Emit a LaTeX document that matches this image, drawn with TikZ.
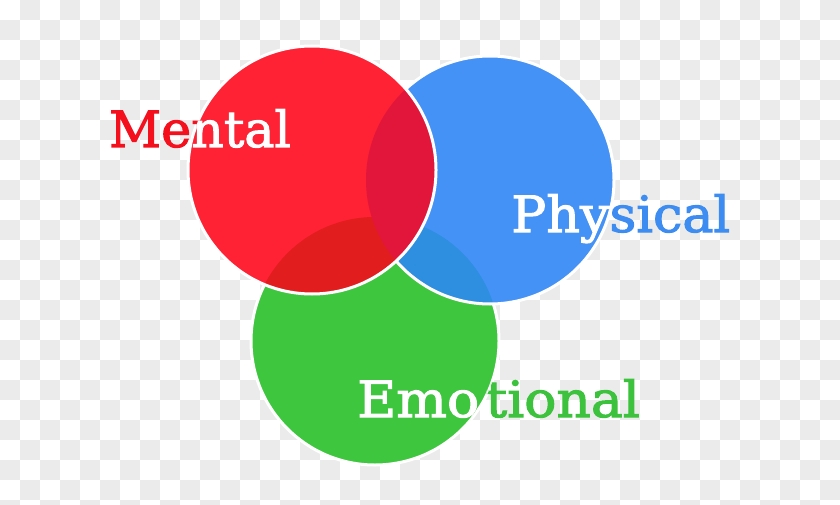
\documentclass[tikz,border=0pt]{standalone}
\usepackage{fontspec}
\setmainfont{DejaVu Serif}
\newfontfamily\lblfont[FakeBold=2]{DejaVu Serif}
\definecolor{cred}{HTML}{FE2234}
\definecolor{tred}{HTML}{F5101E}
\definecolor{cblue}{HTML}{4492F6}
\definecolor{tblue}{HTML}{3C8CF2}
\definecolor{cgreen}{HTML}{3EC73E}
\definecolor{tgreen}{HTML}{3CC23C}
\definecolor{crb}{HTML}{E2163A}
\definecolor{crg}{HTML}{E21D1D}
\definecolor{cbg}{HTML}{2E8FE0}
\definecolor{checker}{HTML}{EBEBEB}
\tikzset{
  ring/.style={draw=white, line width=3pt},
  lbl/.style={anchor=base west, inner sep=0pt, font=\fontsize{50}{50}\lblfont},
}
\newcommand{\txtM}{\scalebox{1.015}[1]{Mental}}
\newcommand{\txtP}{\scalebox{1.045}[1]{Physical}}
\newcommand{\txtE}{\scalebox{1.07}[1]{Emo\hspace{6pt}tional}}
\begin{document}
\begin{tikzpicture}[x=1pt,y=-1pt]
\useasboundingbox (0,0) rectangle (840,505);
\fill[white] (0,0) rectangle (840,505);
% checkerboard
\foreach \i in {0,...,41}{
  \foreach \j in {0,...,25}{
    \pgfmathtruncatemacro{\p}{mod(\i+\j,2)}
    \ifnum\p=1
      \fill[checker] (\i*20,\j*20) rectangle ++(20,20);
    \fi
  }
}
\coordinate (R) at (312,170);
\coordinate (B) at (490,180);
\coordinate (G) at (375,341);
\def\rad{124}
% green
\fill[cgreen] (G) circle (\rad);
\draw[ring] (G) circle (\rad);
% blue
\fill[cblue] (B) circle (\rad);
\begin{scope}
  \clip (B) circle (\rad);
  \fill[cbg] (G) circle (\rad);
\end{scope}
\draw[ring] (B) circle (\rad);
% red
\fill[cred] (R) circle (\rad);
\begin{scope}
  \clip (R) circle (\rad);
  \fill[crg] (G) circle (\rad);
  \fill[crb] (B) circle (\rad);
\end{scope}
\draw[ring] (R) circle (\rad);
% labels
\node[lbl, text=tred] (mental) at (109,147) {\txtM};
\begin{scope}
  \clip (R) circle (\rad);
  \node[lbl, text=white] (mentalw) at (109,147) {\txtM};
\end{scope}
\node[lbl, text=tblue] (phys) at (511,232) {\txtP};
\begin{scope}
  \clip (B) circle (\rad);
  \node[lbl, text=white] (physw) at (511,232) {\txtP};
\end{scope}
\node[lbl, text=tgreen] (emo) at (357,417) {\txtE};
\begin{scope}
  \clip (G) circle (\rad);
  \node[lbl, text=white] (emow) at (357,417) {\txtE};
\end{scope}
\end{tikzpicture}
\end{document}
